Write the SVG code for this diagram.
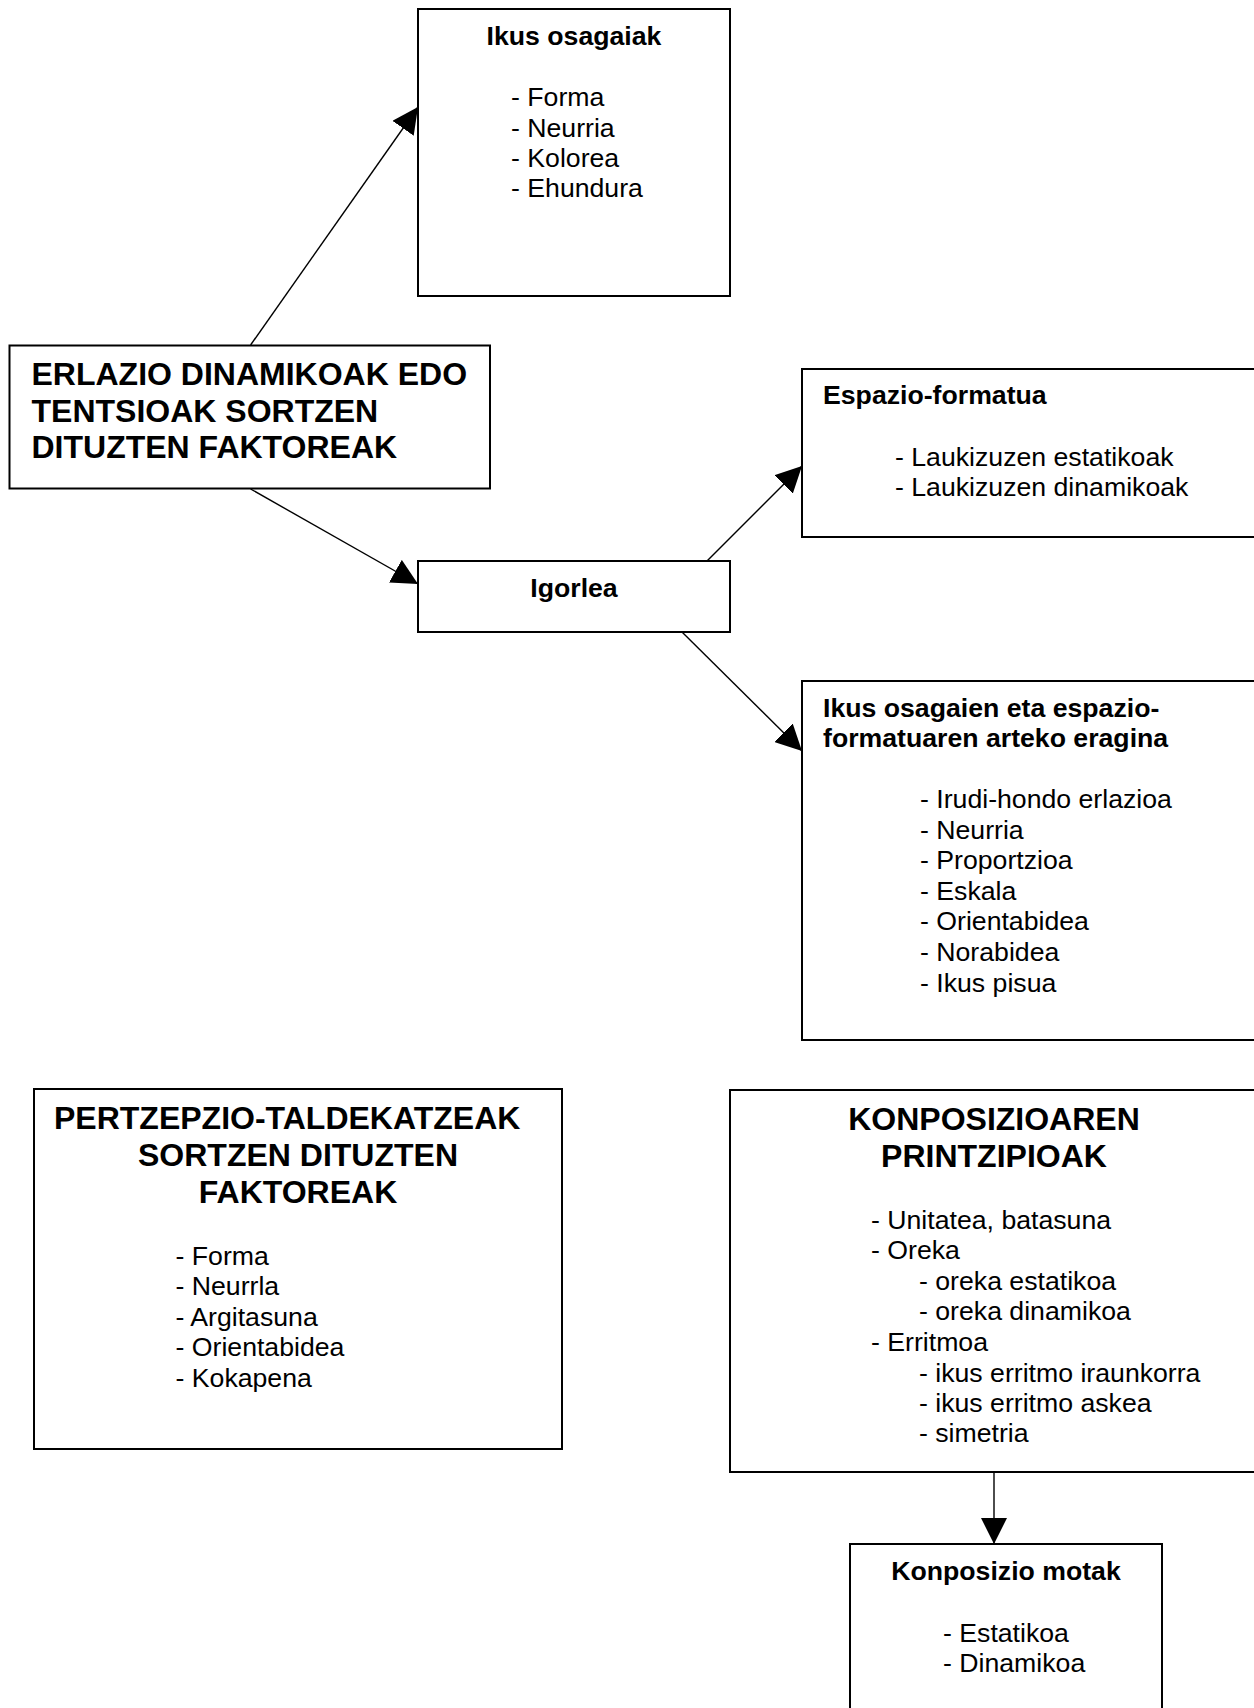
<svg xmlns="http://www.w3.org/2000/svg" width="1254" height="1708" viewBox="0 0 1254 1708">
  <style>
    .box { fill: #ffffff; stroke: #000000; stroke-width: 2; }
    .conn { fill: none; stroke: #000000; stroke-width: 1.4; }
    text { font-family: "Liberation Sans", Arial, sans-serif; fill: #000000; }
    .h { font-size: 26.67px; font-weight: bold; }
    .H { font-size: 32px; font-weight: bold; }
    .t { font-size: 26.67px; }
    .c { text-anchor: middle; }
  </style>
  <defs>
    <marker id="ah" viewBox="0 0 26 26" refX="26" refY="13" markerWidth="26" markerHeight="26" markerUnits="userSpaceOnUse" orient="auto">
      <path d="M0,0 L26,13 L0,26 z" fill="#000000"/>
    </marker>
  </defs>
  <rect x="0" y="0" width="1254" height="1708" fill="#ffffff"/>

  <g id="connectors">
    <line class="conn" x1="250.6" y1="345" x2="418" y2="107" marker-end="url(#ah)"/>
    <line class="conn" x1="250.6" y1="489" x2="418" y2="584" marker-end="url(#ah)"/>
    <line class="conn" x1="707" y1="561" x2="802" y2="466" marker-end="url(#ah)"/>
    <line class="conn" x1="682" y1="632" x2="802" y2="751" marker-end="url(#ah)"/>
    <line class="conn" x1="994" y1="1472" x2="994" y2="1544" marker-end="url(#ah)"/>
  </g>

  <g id="ikus-osagaiak">
    <rect class="box" x="418" y="9" width="312" height="287"/>
    <text class="h c" x="574" y="45">Ikus osagaiak</text>
    <text class="t" x="511" y="106">- Forma</text>
    <text class="t" x="511" y="137">- Neurria</text>
    <text class="t" x="511" y="167">- Kolorea</text>
    <text class="t" x="511" y="197">- Ehundura</text>
  </g>

  <g id="erlazio">
    <rect class="box" x="9.5" y="345.5" width="480.5" height="143"/>
    <text class="H" x="31.5" y="385">ERLAZIO DINAMIKOAK EDO</text>
    <text class="H" x="31.5" y="422">TENTSIOAK SORTZEN</text>
    <text class="H" x="31.5" y="458">DITUZTEN FAKTOREAK</text>
  </g>

  <g id="igorlea">
    <rect class="box" x="418" y="561" width="312" height="71"/>
    <text class="h c" x="574" y="597">Igorlea</text>
  </g>

  <g id="espazio-formatua">
    <rect class="box" x="802" y="369" width="470" height="168"/>
    <text class="h" x="823" y="404">Espazio-formatua</text>
    <text class="t" x="895" y="466">- Laukizuzen estatikoak</text>
    <text class="t" x="895" y="496">- Laukizuzen dinamikoak</text>
  </g>

  <g id="ikus-osagaien-eragina">
    <rect class="box" x="802" y="681" width="470" height="359"/>
    <text class="h" x="823" y="717">Ikus osagaien eta espazio-</text>
    <text class="h" x="823" y="747">formatuaren arteko eragina</text>
    <text class="t" x="920" y="808">- Irudi-hondo erlazioa</text>
    <text class="t" x="920" y="839">- Neurria</text>
    <text class="t" x="920" y="869">- Proportzioa</text>
    <text class="t" x="920" y="900">- Eskala</text>
    <text class="t" x="920" y="930">- Orientabidea</text>
    <text class="t" x="920" y="961">- Norabidea</text>
    <text class="t" x="920" y="992">- Ikus pisua</text>
  </g>

  <g id="pertzepzio">
    <rect class="box" x="34" y="1089" width="528" height="360"/>
    <text class="H" x="54" y="1129">PERTZEPZIO-TALDEKATZEAK</text>
    <text class="H c" x="298" y="1166">SORTZEN DITUZTEN</text>
    <text class="H c" x="298" y="1203">FAKTOREAK</text>
    <text class="t" x="175.5" y="1265">- Forma</text>
    <text class="t" x="175.5" y="1295">- Neurrla</text>
    <text class="t" x="175.5" y="1326">- Argitasuna</text>
    <text class="t" x="175.5" y="1356">- Orientabidea</text>
    <text class="t" x="175.5" y="1387">- Kokapena</text>
  </g>

  <g id="konposizioaren-printzipioak">
    <rect class="box" x="730" y="1090" width="540" height="382"/>
    <text class="H c" x="994" y="1130">KONPOSIZIOAREN</text>
    <text class="H c" x="994" y="1167">PRINTZIPIOAK</text>
    <text class="t" x="871" y="1229">- Unitatea, batasuna</text>
    <text class="t" x="871" y="1259">- Oreka</text>
    <text class="t" x="919" y="1290">- oreka estatikoa</text>
    <text class="t" x="919" y="1320">- oreka dinamikoa</text>
    <text class="t" x="871" y="1351">- Erritmoa</text>
    <text class="t" x="919" y="1382">- ikus erritmo iraunkorra</text>
    <text class="t" x="919" y="1412">- ikus erritmo askea</text>
    <text class="t" x="919" y="1442">- simetria</text>
  </g>

  <g id="konposizio-motak">
    <rect class="box" x="850" y="1544" width="312" height="190"/>
    <text class="h c" x="1006" y="1580">Konposizio motak</text>
    <text class="t" x="943" y="1642">- Estatikoa</text>
    <text class="t" x="943" y="1672">- Dinamikoa</text>
  </g>
</svg>
